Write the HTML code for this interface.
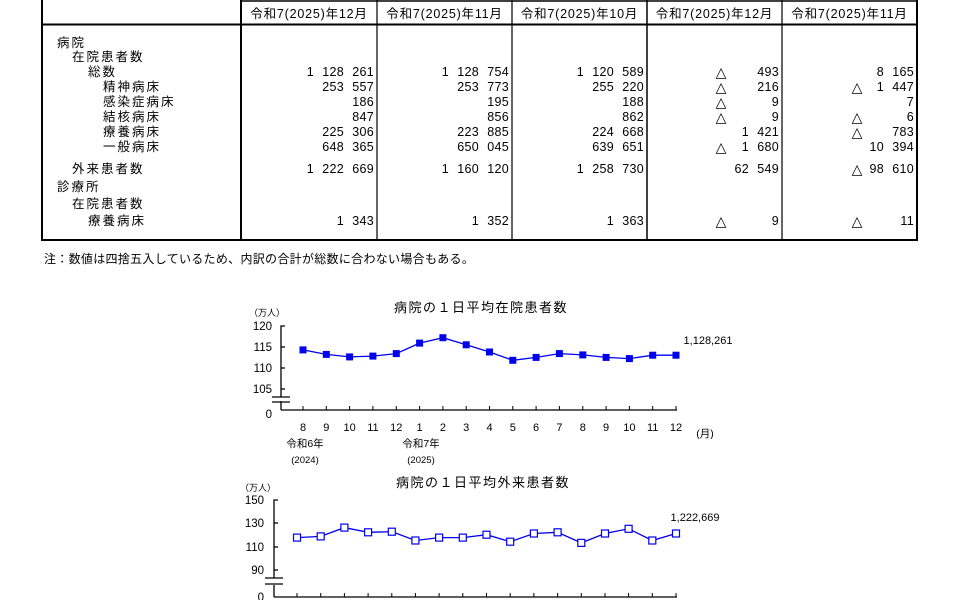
<!DOCTYPE html>
<html><head><meta charset="utf-8"><style>
html,body{margin:0;padding:0;background:#fff;}
svg{display:block;font-family:"Liberation Sans","Noto Sans CJK JP",sans-serif;}
</style></head><body>
<svg width="960" height="600" viewBox="0 0 960 600" xmlns="http://www.w3.org/2000/svg">
<rect width="960" height="600" fill="#fff"/>
<g stroke="#000" fill="none">
<line x1="241" y1="1" x2="917" y2="1" stroke-width="1.5"/>
<line x1="42" y1="24.5" x2="918" y2="24.5" stroke-width="2"/>
<line x1="42" y1="240" x2="918" y2="240" stroke-width="2"/>
<line x1="42" y1="0" x2="42" y2="241" stroke-width="2"/>
<line x1="241" y1="0" x2="241" y2="241" stroke-width="2"/>
<line x1="377" y1="0" x2="377" y2="241" stroke-width="1.2"/>
<line x1="512" y1="0" x2="512" y2="241" stroke-width="1.2"/>
<line x1="647" y1="0" x2="647" y2="241" stroke-width="1.5"/>
<line x1="782" y1="0" x2="782" y2="241" stroke-width="1.2"/>
<line x1="917" y1="0" x2="917" y2="241" stroke-width="2"/>
</g>
<g font-size="12.5" fill="#000" text-anchor="middle" letter-spacing="0.8">
<text x="309" y="18">令和7(2025)年12月</text>
<text x="444.5" y="18">令和7(2025)年11月</text>
<text x="579.5" y="18">令和7(2025)年10月</text>
<text x="714.5" y="18">令和7(2025)年12月</text>
<text x="849.5" y="18">令和7(2025)年11月</text>
</g>
<g font-size="12.5" fill="#000" letter-spacing="2">
<text x="57" y="47">病院</text>
<text x="72" y="61">在院患者数</text>
<text x="88" y="76">総数</text>
<text x="103" y="91">精神病床</text>
<text x="103" y="106">感染症病床</text>
<text x="103" y="121">結核病床</text>
<text x="103" y="136">療養病床</text>
<text x="103" y="151">一般病床</text>
<text x="72" y="173">外来患者数</text>
<text x="57" y="191">診療所</text>
<text x="72" y="208">在院患者数</text>
<text x="88" y="225">療養病床</text>
</g>
<g font-size="12.5" fill="#000" text-anchor="end" word-spacing="4.5" letter-spacing="0.3">
<text x="374" y="76">1 128 261</text><text x="509" y="76">1 128 754</text><text x="644" y="76">1 120 589</text><text x="779" y="76">493</text><text x="914" y="76">8 165</text>
<text x="374" y="91">253 557</text><text x="509" y="91">253 773</text><text x="644" y="91">255 220</text><text x="779" y="91">216</text><text x="914" y="91">1 447</text>
<text x="374" y="106">186</text><text x="509" y="106">195</text><text x="644" y="106">188</text><text x="779" y="106">9</text><text x="914" y="106">7</text>
<text x="374" y="121">847</text><text x="509" y="121">856</text><text x="644" y="121">862</text><text x="779" y="121">9</text><text x="914" y="121">6</text>
<text x="374" y="136">225 306</text><text x="509" y="136">223 885</text><text x="644" y="136">224 668</text><text x="779" y="136">1 421</text><text x="914" y="136">783</text>
<text x="374" y="151">648 365</text><text x="509" y="151">650 045</text><text x="644" y="151">639 651</text><text x="779" y="151">1 680</text><text x="914" y="151">10 394</text>
<text x="374" y="173">1 222 669</text><text x="509" y="173">1 160 120</text><text x="644" y="173">1 258 730</text><text x="779" y="173">62 549</text><text x="914" y="173">98 610</text>
<text x="374" y="225">1 343</text><text x="509" y="225">1 352</text><text x="644" y="225">1 363</text><text x="779" y="225">9</text><text x="914" y="225">11</text>
</g>
<g font-size="14" fill="#000" text-anchor="middle" font-family="'DejaVu Sans',sans-serif">
<text x="721" y="77">△</text><text x="721" y="92">△</text><text x="721" y="107">△</text><text x="721" y="122">△</text><text x="721" y="152">△</text><text x="721" y="226">△</text>
<text x="857" y="92">△</text><text x="857" y="122">△</text><text x="857" y="137">△</text><text x="857" y="174">△</text><text x="857" y="226">△</text>
</g>
<text x="44" y="263" font-size="12" fill="#000" letter-spacing="0.3">注：数値は四捨五入しているため、内訳の合計が総数に合わない場合もある。</text>

<!-- chart 1 -->
<text x="481" y="312" font-size="13" text-anchor="middle" letter-spacing="1.5">病院の１日平均在院患者数</text>
<text x="249" y="316" font-size="9">（万人）</text>
<g font-size="11.5" text-anchor="end">
<text x="272" y="330">120</text><text x="272" y="351">115</text><text x="272" y="372">110</text><text x="272" y="393">105</text><text x="272" y="418">0</text>
</g>
<g stroke="#000" stroke-width="1.3" fill="none">
<polyline points="285,326 281,326 281,397"/>
<line x1="281" y1="401" x2="281" y2="410"/>
<line x1="272" y1="397" x2="290" y2="397"/><line x1="272" y1="402" x2="290" y2="402"/>
<line x1="281" y1="410" x2="677" y2="410"/>
<line x1="281" y1="347" x2="285" y2="347"/><line x1="281" y1="368" x2="285" y2="368"/><line x1="281" y1="389" x2="285" y2="389"/>
</g>
<g font-size="11" text-anchor="middle">
<text x="303" y="431">8</text><text x="326.3" y="431">9</text><text x="349.6" y="431">10</text><text x="372.9" y="431">11</text><text x="396.3" y="431">12</text><text x="419.6" y="431">1</text><text x="442.9" y="431">2</text><text x="466.2" y="431">3</text><text x="489.5" y="431">4</text><text x="512.8" y="431">5</text><text x="536.1" y="431">6</text><text x="559.4" y="431">7</text><text x="582.8" y="431">8</text><text x="606.1" y="431">9</text><text x="629.4" y="431">10</text><text x="652.7" y="431">11</text><text x="676" y="431">12</text>
<text x="305" y="447" font-size="10.5">令和6年</text><text x="305" y="463" font-size="9.5">(2024)</text>
<text x="421" y="447" font-size="10.5">令和7年</text><text x="421" y="463" font-size="9.5">(2025)</text>
<text x="705" y="437" font-size="10.5">(月)</text>
</g>
<text x="708" y="344" font-size="11" text-anchor="middle">1,128,261</text>
<polyline fill="none" stroke="#0000ee" stroke-width="1.3" points="303,349.9 326.3,354.4 349.6,356.9 372.9,356.1 396.3,353.6 419.6,343.1 442.9,337.7 466.2,344.8 489.5,352.0 512.8,360.3 536.1,357.4 559.4,353.6 582.8,354.9 606.1,357.4 629.4,358.6 652.7,355.2 676,355.2"/>
<g fill="#0000ee">
<rect x="299.5" y="346.4" width="7" height="7"/><rect x="322.8" y="350.9" width="7" height="7"/><rect x="346.1" y="353.4" width="7" height="7"/><rect x="369.4" y="352.6" width="7" height="7"/><rect x="392.8" y="350.1" width="7" height="7"/><rect x="416.1" y="339.6" width="7" height="7"/><rect x="439.4" y="334.2" width="7" height="7"/><rect x="462.7" y="341.3" width="7" height="7"/><rect x="486" y="348.5" width="7" height="7"/><rect x="509.3" y="356.8" width="7" height="7"/><rect x="532.6" y="353.9" width="7" height="7"/><rect x="555.9" y="350.1" width="7" height="7"/><rect x="579.3" y="351.4" width="7" height="7"/><rect x="602.6" y="353.9" width="7" height="7"/><rect x="625.9" y="355.1" width="7" height="7"/><rect x="649.2" y="351.7" width="7" height="7"/><rect x="672.5" y="351.7" width="7" height="7"/>
</g>

<!-- chart 2 -->
<text x="483" y="487" font-size="13" text-anchor="middle" letter-spacing="1.5">病院の１日平均外来患者数</text>
<text x="240" y="491" font-size="9">（万人）</text>
<g font-size="11.5" text-anchor="end">
<text x="264" y="504">150</text><text x="264" y="527">130</text><text x="264" y="551">110</text><text x="264" y="574">90</text><text x="264" y="601">0</text>
</g>
<g stroke="#000" stroke-width="1.3" fill="none">
<polyline points="278,500 274,500 274,578"/>
<line x1="274" y1="585" x2="274" y2="597"/>
<line x1="265" y1="578" x2="283" y2="578"/><line x1="265" y1="584" x2="283" y2="584"/>
<line x1="274" y1="597" x2="677" y2="597"/>
<line x1="274" y1="523" x2="278" y2="523"/><line x1="274" y1="547" x2="278" y2="547"/><line x1="274" y1="570" x2="278" y2="570"/>
</g>
<text x="695" y="521" font-size="11" text-anchor="middle">1,222,669</text>
<polyline fill="none" stroke="#0000ee" stroke-width="1.3" points="297,537.6 320.7,536.4 344.4,527.6 368.1,532.3 391.8,531.7 415.4,540.5 439.1,537.6 462.8,537.6 486.5,534.7 510.2,541.7 533.9,533.5 557.6,532.3 581.3,542.9 605,533.5 628.6,528.8 652.3,540.5 676,533.5"/>
<g fill="#fff" stroke="#0000ee" stroke-width="1.2">
<rect x="293.5" y="534.1" width="7" height="7"/><rect x="317.2" y="532.9" width="7" height="7"/><rect x="340.9" y="524.1" width="7" height="7"/><rect x="364.6" y="528.8" width="7" height="7"/><rect x="388.3" y="528.2" width="7" height="7"/><rect x="411.9" y="537" width="7" height="7"/><rect x="435.6" y="534.1" width="7" height="7"/><rect x="459.3" y="534.1" width="7" height="7"/><rect x="483" y="531.2" width="7" height="7"/><rect x="506.7" y="538.2" width="7" height="7"/><rect x="530.4" y="530" width="7" height="7"/><rect x="554.1" y="528.8" width="7" height="7"/><rect x="577.8" y="539.4" width="7" height="7"/><rect x="601.5" y="530" width="7" height="7"/><rect x="625.1" y="525.3" width="7" height="7"/><rect x="648.8" y="537" width="7" height="7"/><rect x="672.5" y="530" width="7" height="7"/>
</g>
<g stroke="#000" stroke-width="1">
<line x1="303" y1="406" x2="303" y2="410"/><line x1="326.3" y1="406" x2="326.3" y2="410"/><line x1="349.6" y1="406" x2="349.6" y2="410"/><line x1="372.9" y1="406" x2="372.9" y2="410"/><line x1="396.3" y1="406" x2="396.3" y2="410"/><line x1="419.6" y1="406" x2="419.6" y2="410"/><line x1="442.9" y1="406" x2="442.9" y2="410"/><line x1="466.2" y1="406" x2="466.2" y2="410"/><line x1="489.5" y1="406" x2="489.5" y2="410"/><line x1="512.8" y1="406" x2="512.8" y2="410"/><line x1="536.1" y1="406" x2="536.1" y2="410"/><line x1="559.4" y1="406" x2="559.4" y2="410"/><line x1="582.8" y1="406" x2="582.8" y2="410"/><line x1="606.1" y1="406" x2="606.1" y2="410"/><line x1="629.4" y1="406" x2="629.4" y2="410"/><line x1="652.7" y1="406" x2="652.7" y2="410"/><line x1="676" y1="406" x2="676" y2="410"/>
<line x1="297" y1="593" x2="297" y2="597"/><line x1="320.7" y1="593" x2="320.7" y2="597"/><line x1="344.4" y1="593" x2="344.4" y2="597"/><line x1="368.1" y1="593" x2="368.1" y2="597"/><line x1="391.8" y1="593" x2="391.8" y2="597"/><line x1="415.4" y1="593" x2="415.4" y2="597"/><line x1="439.1" y1="593" x2="439.1" y2="597"/><line x1="462.8" y1="593" x2="462.8" y2="597"/><line x1="486.5" y1="593" x2="486.5" y2="597"/><line x1="510.2" y1="593" x2="510.2" y2="597"/><line x1="533.9" y1="593" x2="533.9" y2="597"/><line x1="557.6" y1="593" x2="557.6" y2="597"/><line x1="581.3" y1="593" x2="581.3" y2="597"/><line x1="605" y1="593" x2="605" y2="597"/><line x1="628.6" y1="593" x2="628.6" y2="597"/><line x1="652.3" y1="593" x2="652.3" y2="597"/><line x1="676" y1="593" x2="676" y2="597"/>
</g>
</svg>
</body></html>
